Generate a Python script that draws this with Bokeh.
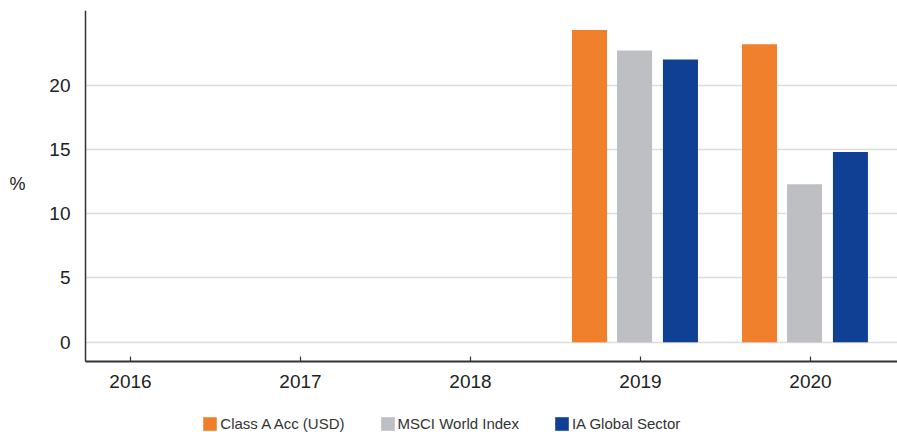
from bokeh.plotting import figure
from bokeh.models import Range1d, FixedTicker, Legend, LegendItem, ColumnDataSource, Label
from bokeh.embed import file_html
from bokeh.resources import INLINE

# ---- data ----
years = ["2016", "2017", "2018", "2019", "2020"]
class_a = [None, None, None, 24.3, 23.2]
msci = [None, None, None, 22.7, 12.3]
ia_global = [None, None, None, 22.0, 14.8]
series_names = ["Class A Acc (USD)", "MSCI World Index", "IA Global Sector"]
series_colors = ["#F0802C", "#BEBFC2", "#0F4094"]
y_ticks = [0, 5, 10, 15, 20]
y_label = "%"

FONT = "Liberation Sans"

# pixel geometry of the frame (frame spans the whole canvas below the top border)
X0_PX, PX_PER_CAT = 130.0, 170.0        # centre of first category, category spacing
AXIS_PX = 85.0                           # y-axis line position
W, H, TOP = 897, 432, 10
Y_TOP = 25.82
Y_AXIS_BOTTOM = -1.5
PX_PER_UNIT = 12.845
Y_BOTTOM = Y_TOP - (H - TOP) / PX_PER_UNIT

def px_to_x(px):
    return (px - X0_PX) / PX_PER_CAT

X_START, X_END = px_to_x(0), px_to_x(W)
X_AXIS = px_to_x(AXIS_PX)

p = figure(width=W, height=H, output_backend="svg", toolbar_location=None,
           x_range=Range1d(X_START, X_END), y_range=Range1d(Y_BOTTOM, Y_TOP),
           min_border_left=0, min_border_right=0, min_border_top=TOP,
           min_border_bottom=0)
p.outline_line_color = None
p.background_fill_color = "white"
p.border_fill_color = "white"

# horizontal grid lines, limited to the right of the y axis
p.xgrid.grid_line_color = None
if "cross_bounds" in p.ygrid.properties():
    p.ygrid.grid_line_color = "#DCDCDC"
    p.ygrid.grid_line_width = 1.5
    p.ygrid.cross_bounds = (X_AXIS, X_END)
else:
    p.ygrid.grid_line_color = None
    p.segment(x0=[X_AXIS] * len(y_ticks), x1=[X_END] * len(y_ticks), y0=y_ticks, y1=y_ticks,
              line_color="#DCDCDC", line_width=1.5, level="underlay")

offsets = [-0.30, -0.035, 0.235]
bar_w = 0.206
renderers = []
for vals, name, col, off in zip([class_a, msci, ia_global], series_names, series_colors, offsets):
    xs = [i + off for i, v in enumerate(vals) if v is not None]
    tops = [v for v in vals if v is not None]
    src = ColumnDataSource(dict(x=xs, top=tops))
    r = p.vbar(x="x", top="top", bottom=0, width=bar_w, source=src,
               fill_color=col, line_color=None)
    renderers.append(r)

# x axis
p.xaxis.fixed_location = Y_AXIS_BOTTOM
p.xaxis.bounds = (X_AXIS, X_END)
p.xaxis.ticker = FixedTicker(ticks=list(range(len(years))))
p.xaxis.major_label_overrides = {i: y for i, y in enumerate(years)}
p.xaxis.minor_tick_line_color = None
p.xaxis.major_tick_in = 5
p.xaxis.major_tick_out = 0
p.xaxis.major_tick_line_color = "#333333"
p.xaxis.major_tick_line_width = 1.2
p.xaxis.axis_line_color = "#333333"
p.xaxis.axis_line_width = 1.8
p.xaxis.major_label_text_font = FONT
p.xaxis.major_label_text_font_size = "19px"
p.xaxis.major_label_text_color = "#222222"
p.xaxis.major_label_standoff = 14

# y axis
p.yaxis.fixed_location = X_AXIS
p.yaxis.bounds = (Y_AXIS_BOTTOM, Y_TOP)
p.yaxis.ticker = FixedTicker(ticks=y_ticks)
p.yaxis.minor_tick_line_color = None
p.yaxis.major_tick_line_color = None
p.yaxis.major_tick_in = 0
p.yaxis.major_tick_out = 0
p.yaxis.axis_line_color = "#333333"
p.yaxis.axis_line_width = 1.5
p.yaxis.major_label_text_font = FONT
p.yaxis.major_label_text_font_size = "19px"
p.yaxis.major_label_text_color = "#222222"
p.yaxis.major_label_standoff = 15

p.add_layout(Label(x=px_to_x(17), y=(341.7 - 184) / PX_PER_UNIT, text=y_label,
                   text_font=FONT, text_font_size="18px", text_color="#222222",
                   text_align="center", text_baseline="middle"))

legend = Legend(items=[LegendItem(label=n, renderers=[r]) for n, r in zip(series_names, renderers)],
                orientation="horizontal", location=(201.3, 0),
                glyph_width=17, glyph_height=17, label_standoff=2, spacing=34,
                padding=0, margin=0, border_line_color=None, background_fill_alpha=0,
                label_text_font=FONT, label_text_font_size="15px",
                label_text_color="#333333", label_height=17)
p.add_layout(legend, "center")

open("out.html", "w").write(file_html(p, INLINE))
